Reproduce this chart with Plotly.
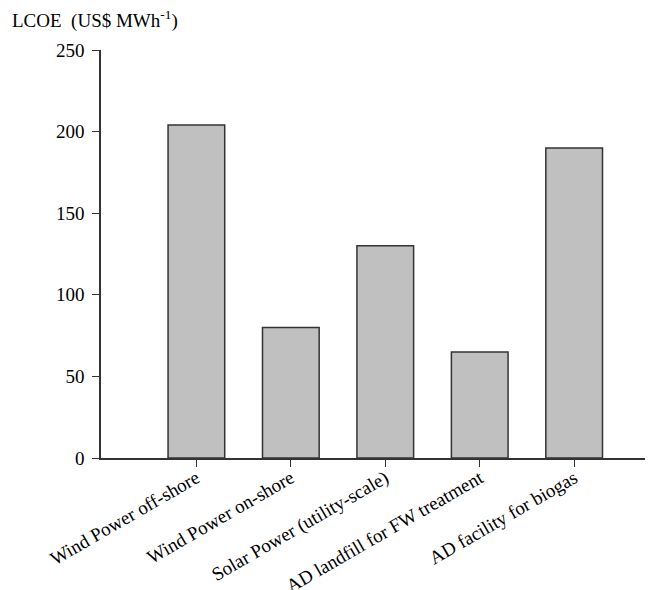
import plotly.graph_objects as go

categories = ["Wind Power off-shore", "Wind Power on-shore", "Solar Power (utility-scale)",
              "AD landfill for FW treatment", "AD facility for biogas"]
lcoe = [204, 80, 130, 65, 190]
y_ticks = [0, 50, 100, 150, 200, 250]

FONT = "Liberation Serif, Times New Roman, serif"

fig = go.Figure(go.Bar(
    x=list(range(len(categories))), y=lcoe, width=0.6,
    marker=dict(color="#c0c0c0", line=dict(color="#333333", width=1.5)),
))

# page body has an 8px margin, so the figure is sized 8px smaller
fig.update_layout(
    width=652, height=582,
    margin=dict(l=93, r=15, t=42, b=132),
    plot_bgcolor="white", paper_bgcolor="white",
    font=dict(family=FONT, size=19, color="black"),
    showlegend=False,
    bargap=0.4,
)
fig.update_xaxes(
    range=[-1.01, 4.75], tickmode="array", tickvals=list(range(len(categories))),
    ticktext=categories, tickangle=-30, ticks="outside", ticklen=7, tickwidth=1.2,
    tickcolor="#333333", showline=True, linecolor="#333333", linewidth=1.5,
    showgrid=False, zeroline=False, tickfont=dict(family=FONT, size=19),
    ticklabelstandoff=-7, automargin=False,
)
fig.update_yaxes(
    range=[0, 250], tickmode="array", tickvals=y_ticks, ticks="outside", ticklen=7,
    tickwidth=1.2, tickcolor="#333333", showline=True, linecolor="#333333", linewidth=1.5,
    showgrid=False, zeroline=False, ticklabelstandoff=4, tickfont=dict(family=FONT, size=19),
    automargin=False,
)
fig.add_annotation(
    text="LCOE&nbsp; (US$ MWh<sup>-1</sup>)", xref="paper", yref="paper",
    x=-91/544, y=1.075, xanchor="left", yanchor="middle", showarrow=False,
    font=dict(family=FONT, size=19, color="black"),
)
fig.write_html("out.html")
